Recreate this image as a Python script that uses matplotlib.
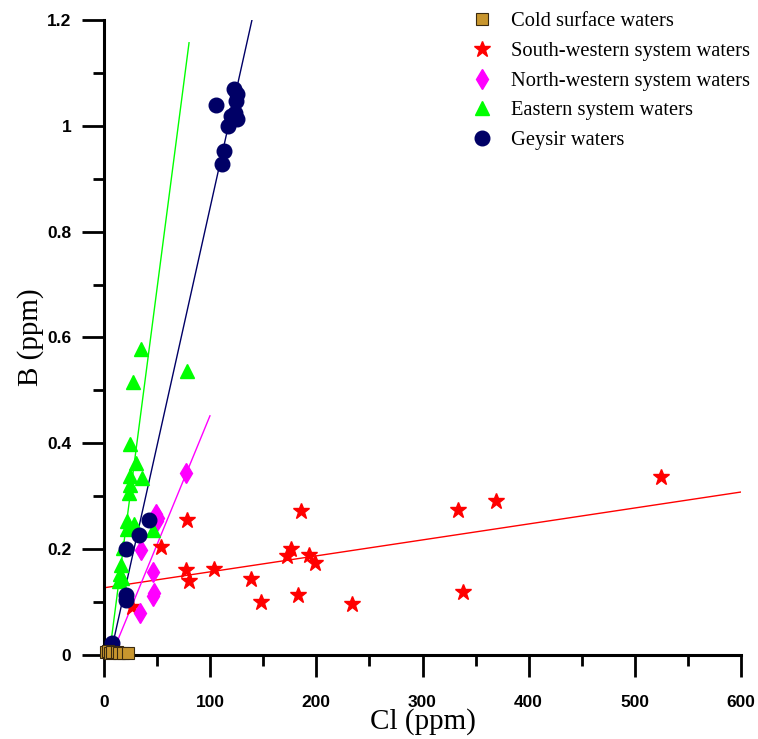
import matplotlib
matplotlib.use("Agg")
import matplotlib.pyplot as plt
from matplotlib.ticker import MultipleLocator

# Cold surface waters
cold_cl = [1.6, 4.0, 5.6, 8.0, 11.9, 14.5, 18.2, 22.3]
cold_b = [0.006, 0.008, 0.004, 0.006, 0.006, 0.004, 0.003, 0.004]

# South-western system waters
sw_cl = [26.7, 53.7, 78.5, 77.2, 80.3, 103.9, 138.5, 147.6, 182.7, 185.6,
         176.1, 172.4, 192.8, 198.5, 233.6, 333.7, 369.2, 338.1, 524.6]
sw_b = [0.090, 0.205, 0.256, 0.161, 0.140, 0.163, 0.144, 0.100, 0.113, 0.272,
        0.200, 0.187, 0.189, 0.173, 0.096, 0.274, 0.291, 0.120, 0.336]

# North-western system waters
nw_cl = [76.9, 49.0, 51.2, 49.8, 34.5, 45.8, 46.8, 46.4, 33.6]
nw_b = [0.344, 0.266, 0.259, 0.253, 0.198, 0.156, 0.118, 0.112, 0.079]

# Eastern system waters
e_cl = [34.8, 78.5, 27.0, 24.8, 29.8, 24.8, 35.8, 24.5, 23.9, 21.9, 27.9,
        21.9, 46.2, 18.2, 15.7, 15.1, 16.6, 14.0]
e_b = [0.578, 0.537, 0.515, 0.398, 0.363, 0.339, 0.334, 0.322, 0.306, 0.254,
       0.247, 0.238, 0.236, 0.202, 0.170, 0.154, 0.145, 0.140]

# Geysir waters
g_cl = [105.2, 122.4, 124.9, 124.0, 123.7, 124.9, 119.3, 116.5, 113.3, 111.4,
        42.7, 33.0, 20.4, 20.4, 21.0, 7.2]
g_b = [1.040, 1.069, 1.060, 1.047, 1.025, 1.013, 1.018, 1.000, 0.953, 0.927,
       0.255, 0.227, 0.201, 0.113, 0.103, 0.022]

# trend lines (end points)
sw_line_cl = [0, 600]
sw_line_b = [0.127, 0.308]
nw_line_cl = [7.2, 99.8]
nw_line_b = [0.0, 0.452]
e_line_cl = [5.0, 80.1]
e_line_b = [0.0, 1.157]
g_line_cl = [6.0, 139.7]
g_line_b = [0.0, 1.203]

fig = plt.figure(figsize=(7.58, 7.39), dpi=100)
ax = fig.add_axes([104 / 758, 84 / 739, 637 / 758, 635 / 739])

ax.plot(sw_line_cl, sw_line_b, color="red", lw=1.0, zorder=2)
ax.plot(nw_line_cl, nw_line_b, color="magenta", lw=1.0, zorder=2)
ax.plot(e_line_cl, e_line_b, color="lime", lw=1.0, zorder=2)
ax.plot(g_line_cl, g_line_b, color="#000066", lw=1.0, zorder=2)

ax.plot(cold_cl, cold_b, "s", ms=8.5, color="#C8962E", mec="#3a2a10", mew=0.8,
        ls="none", label="Cold surface waters", zorder=5, clip_on=False)
ax.plot(sw_cl, sw_b, "*", ms=12, color="red", mec="red",
        ls="none", label="South-western system waters", zorder=3)
ax.plot(nw_cl, nw_b, "d", ms=10, color="magenta", mec="magenta",
        ls="none", label="North-western system waters", zorder=3)
ax.plot(e_cl, e_b, "^", ms=10, color="lime", mec="lime",
        ls="none", label="Eastern system waters", zorder=3)
ax.plot(g_cl, g_b, "o", ms=10.5, color="#000066", mec="#000066",
        ls="none", label="Geysir waters", zorder=4, clip_on=False)

ax.set_xlim(0, 600)
ax.set_ylim(0, 1.2)
ax.xaxis.set_major_locator(MultipleLocator(100))
ax.xaxis.set_minor_locator(MultipleLocator(50))
ax.yaxis.set_major_locator(MultipleLocator(0.2))
ax.yaxis.set_minor_locator(MultipleLocator(0.1))
ax.set_yticks([0, 0.2, 0.4, 0.6, 0.8, 1.0, 1.2])
ax.set_yticklabels(["0", "0.2", "0.4", "0.6", "0.8", "1", "1.2"])

for s in ["top", "right"]:
    ax.spines[s].set_visible(False)
for s in ["left", "bottom"]:
    ax.spines[s].set_linewidth(2.2)

ax.tick_params(which="major", direction="out", length=15.5, width=2, pad=8)
ax.tick_params(axis="x", which="major", pad=13)
ax.tick_params(which="minor", direction="out", length=8, width=2)
for lab in ax.get_xticklabels() + ax.get_yticklabels():
    lab.set_fontfamily("Liberation Sans")
    lab.set_fontweight("bold")
    lab.set_fontsize(12.5)

ax.set_xlabel("Cl (ppm)", fontfamily="Liberation Serif", fontsize=21, labelpad=-1)
ax.set_ylabel("B (ppm)", fontfamily="Liberation Serif", fontsize=21, labelpad=2)

leg = ax.legend(loc="upper left", bbox_to_anchor=(449 / 758, 1.006),
                bbox_transform=fig.transFigure, frameon=False,
                prop={"family": "Liberation Serif", "size": 14.8},
                handlelength=1.6, handletextpad=0.6, labelspacing=0.5,
                borderpad=0.3)

fig.savefig("out.png", dpi=100)
